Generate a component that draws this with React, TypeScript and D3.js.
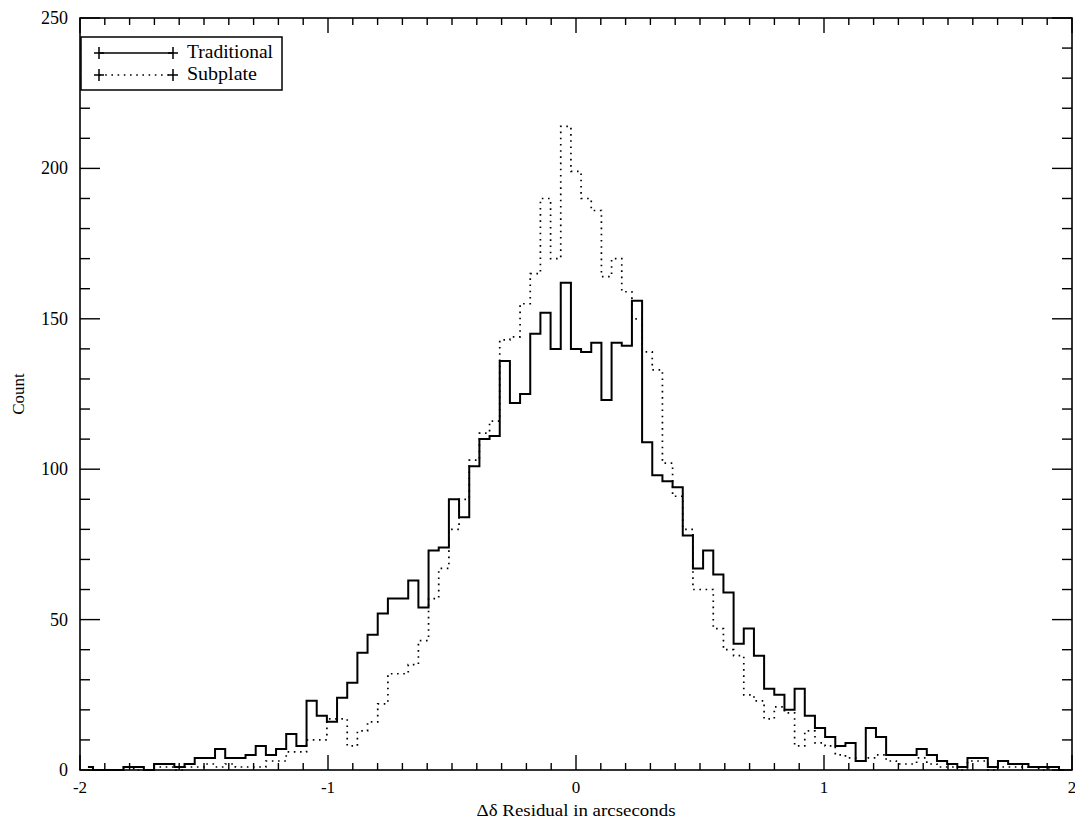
import React, { useRef, useEffect } from 'react';
import * as d3 from 'd3';

// histogram bins: centre of bin k is k * BIN_WIDTH, k from FIRST_BIN upward
const BIN_WIDTH = 0.041;
const FIRST_BIN = -48;

const traditionalCounts = [
  1, 0, 0, 0, 1, 1, 0, 2, 2, 1,
  2, 4, 4, 7, 4, 4, 5, 8, 5, 7,
  12, 8, 23, 18, 16, 24, 29, 39, 45, 52,
  57, 57, 63, 54, 73, 74, 90, 84, 101, 110,
  111, 136, 122, 125, 145, 152, 140, 162,
  140, 139, 142, 123, 142, 141, 156, 109, 98, 96,
  94, 78, 67, 73, 65, 59, 42, 47, 38, 27,
  25, 20, 27, 18, 14, 11, 8, 9, 3, 14,
  11, 5, 5, 5, 7, 5, 3, 2, 1, 4,
  4, 1, 3, 2, 2, 1, 1, 1, 0,
];

const subplateCounts = [
  0, 0, 0, 0, 1, 0, 0, 1, 1, 0,
  1, 1, 2, 1, 2, 1, 1, 1, 3, 3,
  6, 6, 10, 10, 17, 17, 8, 13, 16, 22,
  32, 32, 35, 43, 57, 67, 80, 90, 103, 112,
  116, 143, 144, 155, 165, 190, 170, 214,
  199, 190, 186, 164, 170, 159, 150, 139, 133, 102,
  91, 80, 60, 60, 47, 40, 38, 25, 23, 17,
  21, 19, 8, 13, 9, 8, 5, 4, 3, 4,
  5, 3, 2, 2, 4, 2, 1, 1, 0, 3,
  3, 0, 1, 1, 1, 1, 0, 1, 0,
];

const xTicks = [-2, -1, 0, 1, 2];
const xTickLabels = ['-2', '-1', '0', '1', '2'];
const yTicks = [0, 50, 100, 150, 200, 250];
const yTickLabels = ['0', '50', '100', '150', '200', '250'];
const seriesNames = ['Traditional', 'Subplate'];

const FONT = '"Liberation Serif", "Times New Roman", serif';

export default function App() {
  const svgRef = useRef<SVGSVGElement | null>(null);

  useEffect(() => {
    const width = 1075;
    const height = 825;
    const left = 80, right = 1072, top = 18, bottom = 770;

    const svg = d3.select(svgRef.current);
    svg.selectAll('*').remove();
    svg.attr('width', width).attr('height', height);

    svg.append('rect')
      .attr('width', width).attr('height', height)
      .attr('fill', 'white');

    const x = d3.scaleLinear().domain([-2, 2]).range([left, right]);
    const y = d3.scaleLinear().domain([0, 250]).range([bottom, top]);

    const toPoints = (counts: number[]) =>
      counts.map((v, i) => ({ c: (FIRST_BIN + i) * BIN_WIDTH, v }));

    const line = d3.line<{ c: number; v: number }>()
      .x(d => x(d.c))
      .y(d => y(d.v))
      .curve(d3.curveStep);

    // frame
    svg.append('rect')
      .attr('x', left).attr('y', top)
      .attr('width', right - left).attr('height', bottom - top)
      .attr('fill', 'none')
      .attr('stroke', '#000')
      .attr('stroke-width', 1.6);

    const ticks = svg.append('g').attr('stroke', '#000').attr('stroke-width', 1.4);

    // x ticks, bottom and top
    x.ticks(40).forEach(t => {
      const major = Math.abs(t - Math.round(t)) < 1e-6;
      const len = major ? 15 : 7;
      ticks.append('line')
        .attr('x1', x(t)).attr('x2', x(t))
        .attr('y1', bottom).attr('y2', bottom - len);
      ticks.append('line')
        .attr('x1', x(t)).attr('x2', x(t))
        .attr('y1', top).attr('y2', top + len);
    });

    // y ticks, left and right
    y.ticks(25).forEach(t => {
      const major = t % 50 === 0;
      const len = major ? 20 : 10;
      ticks.append('line')
        .attr('x1', left).attr('x2', left + len)
        .attr('y1', y(t)).attr('y2', y(t));
      ticks.append('line')
        .attr('x1', right).attr('x2', right - len)
        .attr('y1', y(t)).attr('y2', y(t));
    });

    const labels = svg.append('g')
      .attr('font-family', FONT)
      .attr('font-size', 18)
      .attr('fill', '#000');

    xTicks.forEach((t, i) => {
      labels.append('text')
        .attr('x', x(t))
        .attr('y', bottom + 23)
        .attr('font-size', 17)
        .attr('text-anchor', 'middle')
        .text(xTickLabels[i]);
    });

    yTicks.forEach((t, i) => {
      labels.append('text')
        .attr('x', left - 12)
        .attr('y', y(t) + 6)
        .attr('text-anchor', 'end')
        .text(yTickLabels[i]);
    });

    labels.append('text')
      .attr('x', x(0))
      .attr('y', 816)
      .attr('font-size', 17)
      .attr('text-anchor', 'middle')
      .attr('textLength', 199)
      .attr('lengthAdjust', 'spacingAndGlyphs')
      .text('Δδ Residual in arcseconds');

    labels.append('text')
      .attr('transform', `translate(24, ${(top + bottom) / 2}) rotate(-90)`)
      .attr('font-size', 17)
      .attr('text-anchor', 'middle')
      .text('Count');

    // histograms
    svg.append('path')
      .datum(toPoints(subplateCounts))
      .attr('d', line)
      .attr('fill', 'none')
      .attr('stroke', '#000')
      .attr('stroke-width', 1.7)
      .attr('stroke-dasharray', '1.6,4.6');

    svg.append('path')
      .datum(toPoints(traditionalCounts))
      .attr('d', line)
      .attr('fill', 'none')
      .attr('stroke', '#000')
      .attr('stroke-width', 2);

    // legend
    const legend = svg.append('g');
    legend.append('rect')
      .attr('x', 81).attr('y', 37)
      .attr('width', 201).attr('height', 53)
      .attr('fill', 'white')
      .attr('stroke', '#000')
      .attr('stroke-width', 1.5);

    seriesNames.forEach((name, i) => {
      const ly = 53 + i * 22;
      legend.append('line')
        .attr('x1', 99).attr('x2', 173)
        .attr('y1', ly).attr('y2', ly)
        .attr('stroke', '#000')
        .attr('stroke-width', 1.6)
        .attr('stroke-dasharray', i === 0 ? null : '1.6,4.6');
      [99, 173].forEach(px => {
        legend.append('path')
          .attr('d', `M${px - 5},${ly}H${px + 5}M${px},${ly - 6}V${ly + 6}`)
          .attr('stroke', '#000')
          .attr('stroke-width', 1.5);
      });
      legend.append('text')
        .attr('x', 187)
        .attr('y', ly + 5)
        .attr('font-family', FONT)
        .attr('font-size', 18)
        .attr('textLength', i === 0 ? 86 : 70)
        .attr('lengthAdjust', 'spacingAndGlyphs')
        .text(name);
    });
  }, []);

  return (
    <div style={{ position: 'absolute', left: 0, top: 0 }}>
      <svg ref={svgRef} style={{ display: 'block' }} />
    </div>
  );
}
